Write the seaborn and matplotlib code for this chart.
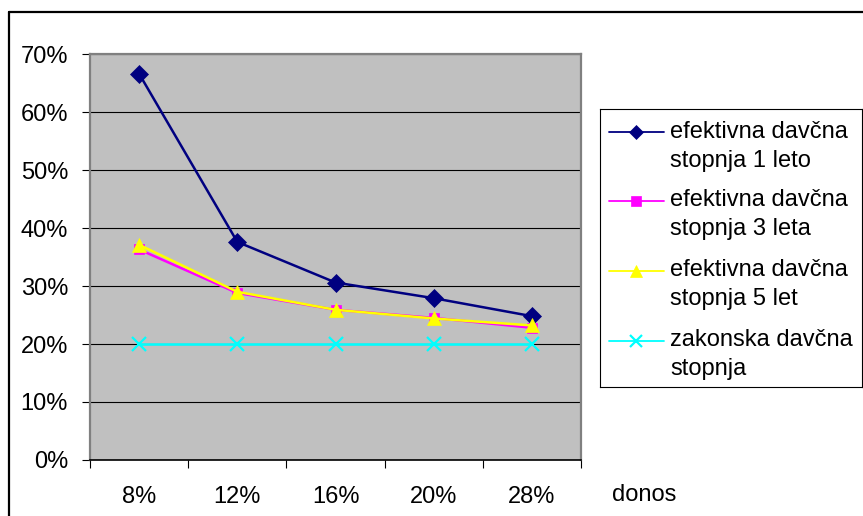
import matplotlib
matplotlib.use("Agg")
import matplotlib.pyplot as plt
import numpy as np
import pandas as pd
import seaborn as sns
from matplotlib.lines import Line2D
from matplotlib.ticker import PercentFormatter, FixedLocator, NullFormatter

# --- data -----------------------------------------------------------------
categories = ["8%", "12%", "16%", "20%", "28%"]
rate_1_year = [66.6, 37.6, 30.6, 27.9, 24.8]
rate_3_years = [36.3, 28.8, 25.9, 24.5, 22.8]
rate_5_years = [37.1, 29.0, 25.9, 24.4, 23.2]
statutory_rate = [20.0, 20.0, 20.0, 20.0, 20.0]

series_labels = [
    "efektivna davčna\nstopnja 1 leto",
    "efektivna davčna\nstopnja 3 leta",
    "efektivna davčna\nstopnja 5 let",
    "zakonska davčna\nstopnja",
]
series_values = [rate_1_year, rate_3_years, rate_5_years, statutory_rate]

# --- style ------------------------------------------------------------------
styles = [
    dict(color="#000080", marker="D", ms=9.5, mew=0.5, lw=1.8, leg_ms=7.5),
    dict(color="#FF00FF", marker="s", ms=7.5, mew=0.5, lw=1.8, leg_ms=7.5),
    dict(color="#FFFF00", marker="^", ms=10.5, mew=0.5, lw=1.8, leg_ms=9.0),
    dict(color="#00FFFF", marker="x", ms=10.0, mew=1.6, lw=1.8, leg_ms=9.0),
]

sns.set_theme(style="white")
plt.rcParams["font.family"] = ["Liberation Sans", "DejaVu Sans"]
FS = 17

W, H = 863, 516
fig = plt.figure(figsize=(W / 100, H / 100), dpi=100)
fig.patch.set_facecolor("white")


def px_rect(x0, y0, x1, y1):
    return [x0 / W, 1 - y1 / H, (x1 - x0) / W, (y1 - y0) / H]


ax = fig.add_axes(px_rect(90, 54, 581, 460))
ax.set_facecolor("#C0C0C0")

frames = []
for label, values in zip(series_labels, series_values):
    frames.append(pd.DataFrame({"donos": categories, "stopnja": values, "serija": label}))
df = pd.concat(frames, ignore_index=True)

for label, st in zip(series_labels, styles):
    sub = df[df["serija"] == label]
    sns.lineplot(
        data=sub, x="donos", y="stopnja", ax=ax, sort=False,
        color=st["color"], lw=st["lw"], marker=st["marker"],
        markersize=st["ms"], markeredgewidth=st["mew"],
        markeredgecolor=st["color"], markerfacecolor=st["color"],
        legend=False, zorder=3,
    )

ax.set_xlim(-0.5, len(categories) - 0.5)
ax.set_ylim(0, 70)
ax.set_xlabel("")
ax.set_ylabel("")

# horizontal gridlines
ax.yaxis.set_major_locator(FixedLocator(np.arange(0, 71, 10)))
ax.yaxis.set_major_formatter(PercentFormatter(xmax=100, decimals=0))
ax.grid(axis="y", color="black", lw=0.8)
ax.grid(axis="x", visible=False)
ax.set_axisbelow(True)

# category ticks at the boundaries, labels centred between them
ax.xaxis.set_major_locator(FixedLocator(np.arange(-0.5, len(categories), 1.0)))
ax.xaxis.set_major_formatter(NullFormatter())
ax.set_xticks(np.arange(len(categories)), labels=categories, minor=True)

ax.tick_params(axis="y", which="major", left=True, length=5.8, width=0.8,
               color="black", pad=10.0, labelsize=FS, labelcolor="black")
ax.tick_params(axis="x", which="major", bottom=True, length=5.8, width=0.8,
               color="black")
ax.tick_params(axis="x", which="minor", bottom=True, length=0, pad=18.5,
               labelsize=FS, labelcolor="black")

for side in ("top", "right", "left"):
    ax.spines[side].set_color("#808080")
    ax.spines[side].set_linewidth(1.6)
ax.spines["bottom"].set_color("black")
ax.spines["bottom"].set_linewidth(1.2)

fig.text(612 / W, 1 - 495 / H, "donos", ha="left", va="center",
         fontsize=FS, color="black")

# chart frame (top and left edges)
fig.add_artist(Line2D([9 / W, 9 / W], [0, 1 - 12 / H], transform=fig.transFigure,
                      color="black", lw=1.6))
fig.add_artist(Line2D([9 / W, 1], [1 - 12 / H, 1 - 12 / H], transform=fig.transFigure,
                      color="black", lw=1.6))

# legend box
lax = fig.add_axes(px_rect(600, 109, 862, 387))
lax.set_xlim(600, 862)
lax.set_ylim(387, 109)
lax.set_facecolor("white")
lax.set_xticks([])
lax.set_yticks([])
for sp in lax.spines.values():
    sp.set_color("black")
    sp.set_linewidth(0.8)

entry_y = [132, 201, 271, 341]
for y, label, st in zip(entry_y, series_labels, styles):
    lax.plot([609, 664], [y, y], color=st["color"], lw=1.3)
    lax.plot([636], [y], marker=st["marker"], ms=st["leg_ms"], color=st["color"],
             mec=st["color"], mfc=st["color"], mew=st["mew"], lw=0)
    first, second = label.split("\n")
    lax.text(670, y + 5.5, first, fontsize=FS, va="baseline", ha="left", color="black")
    lax.text(670, y + 34.5, second, fontsize=FS, va="baseline", ha="left", color="black")

fig.savefig("out.png", dpi=100)
